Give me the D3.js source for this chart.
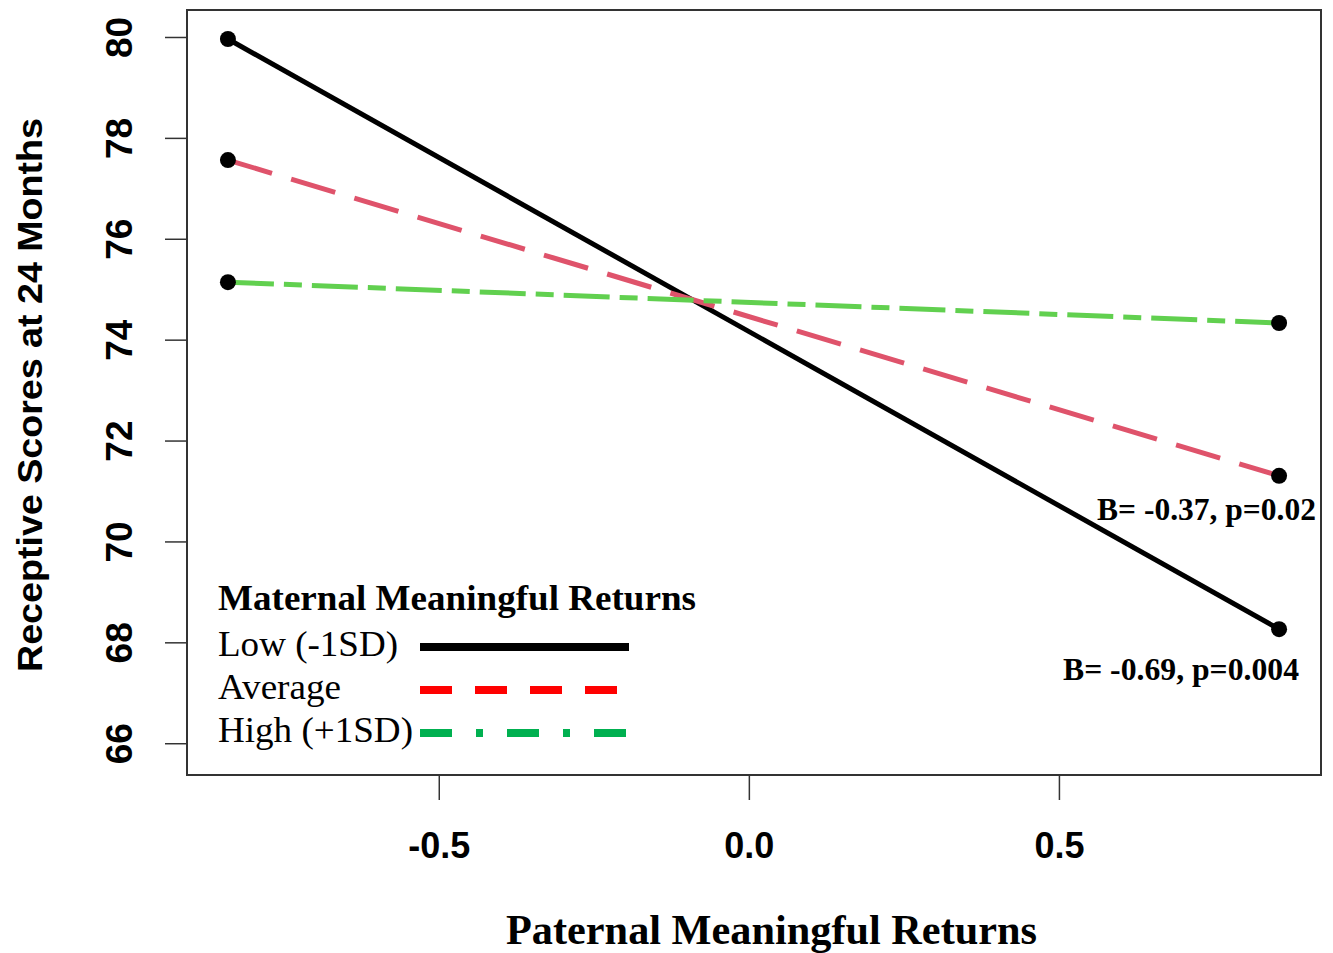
<!DOCTYPE html>
<html lang="en">
<head>
<meta charset="UTF-8">
<title>Receptive Scores</title>
<script src="https://d3js.org/d3.v7.min.js"></script>
<style>
  body { margin: 0; background: #fff; }
  .tick text { font-family: "Liberation Sans", Arial, sans-serif; font-weight: bold; font-size: 37px; fill: #000; }
  .serif { font-family: "Liberation Serif", "Times New Roman", serif; fill: #000; }
</style>
</head>
<body>
<svg width="1333" height="953"></svg>
<script>
// Data
const xValues = [-0.84, 0.855];
const seriesNames = ["Low (-1SD)", "Average", "High (+1SD)"];
const lowValues = [79.96, 68.26];
const avgValues = [77.56, 71.30];
const highValues = [75.14, 74.33];
const yTicks = [66, 68, 70, 72, 74, 76, 78, 80];
const xTicks = [-0.5, 0.0, 0.5];

const svg = d3.select("svg");
const boxLeft = 187, boxRight = 1321, boxTop = 10, boxBottom = 775;

const x = d3.scaleLinear().domain([-0.906, 0.9226]).range([boxLeft, boxRight]);
const y = d3.scaleLinear().domain([65.37, 80.535]).range([boxBottom, boxTop]);

const series = [
  { name: seriesNames[0], vals: lowValues, color: "#000000", dash: null, legColor: "#000000", legDash: null, w: 180 },
  { name: seriesNames[1], vals: avgValues, color: "#DF536B", dash: "46,20", legColor: "#FF0000", legDash: "32,23", w: 123 },
  { name: seriesNames[2], vals: highValues, color: "#61D04F", dash: "46,10,18,10", legColor: "#00B050", legDash: "32,24,7,24", w: 195 }
];

// box
svg.append("rect")
  .attr("x", boxLeft).attr("y", boxTop)
  .attr("width", boxRight - boxLeft).attr("height", boxBottom - boxTop)
  .attr("fill", "none").attr("stroke", "#333").attr("stroke-width", 2);

// axes
const yAxis = svg.append("g")
  .attr("transform", "translate(" + boxLeft + ",0)")
  .call(d3.axisLeft(y).tickValues(yTicks).tickSize(22).tickFormat(d3.format("d")));
yAxis.select(".domain").remove();
yAxis.selectAll(".tick line").attr("stroke", "#333").attr("stroke-width", 1.5);
yAxis.selectAll(".tick text")
  .attr("x", null).attr("dy", null)
  .attr("text-anchor", "middle")
  .attr("transform", "translate(-66,0) rotate(-90)")
  .attr("y", 11);

const xAxis = svg.append("g")
  .attr("transform", "translate(0," + boxBottom + ")")
  .call(d3.axisBottom(x).tickValues(xTicks).tickSize(25).tickFormat(d => d3.format(".1f")(d).replace("−", "-")));
xAxis.select(".domain").remove();
xAxis.selectAll(".tick line").attr("stroke", "#333").attr("stroke-width", 1.5);
xAxis.selectAll(".tick text").attr("y", 83).attr("dy", null).style("font-size", "36px");

// axis labels
svg.append("text")
  .attr("transform", "translate(42,395) rotate(-90)")
  .attr("text-anchor", "middle")
  .attr("textLength", 554).attr("lengthAdjust", "spacingAndGlyphs")
  .style("font-family", "'Liberation Sans', Arial, sans-serif")
  .style("font-weight", "bold")
  .style("font-size", "35px")
  .text("Receptive Scores at 24 Months");

svg.append("text")
  .attr("class", "serif")
  .attr("x", 506).attr("y", 944)
  .attr("textLength", 531).attr("lengthAdjust", "spacingAndGlyphs")
  .style("font-weight", "bold")
  .style("font-size", "42px")
  .text("Paternal Meaningful Returns");

// lines
const line = d3.line().x((d, i) => x(xValues[i])).y(d => y(d));
series.forEach(s => {
  svg.append("path")
    .datum(s.vals)
    .attr("d", line)
    .attr("fill", "none")
    .attr("stroke", s.color)
    .attr("stroke-width", 5)
    .attr("stroke-dasharray", s.dash);
});
series.forEach(s => {
  svg.selectAll(null)
    .data(s.vals)
    .enter().append("circle")
    .attr("cx", (d, i) => x(xValues[i]))
    .attr("cy", d => y(d))
    .attr("r", 8)
    .attr("fill", "#000");
});

// annotations
svg.append("text").attr("class", "serif")
  .attr("x", 1097).attr("y", 520)
  .attr("textLength", 219).attr("lengthAdjust", "spacingAndGlyphs")
  .style("font-weight", "bold").style("font-size", "31px")
  .text("B= -0.37, p=0.02");
svg.append("text").attr("class", "serif")
  .attr("x", 1063).attr("y", 680)
  .attr("textLength", 236).attr("lengthAdjust", "spacingAndGlyphs")
  .style("font-weight", "bold").style("font-size", "31px")
  .text("B= -0.69, p=0.004");

// legend
svg.append("text").attr("class", "serif")
  .attr("x", 218).attr("y", 610)
  .attr("textLength", 478).attr("lengthAdjust", "spacingAndGlyphs")
  .style("font-weight", "bold").style("font-size", "36px")
  .text("Maternal Meaningful Returns");
series.forEach((s, i) => {
  const ly = 647 + i * 43;
  svg.append("text").attr("class", "serif")
    .attr("x", 218).attr("y", ly + 9)
    .attr("textLength", s.w).attr("lengthAdjust", "spacingAndGlyphs")
    .style("font-size", "36px")
    .text(s.name);
  svg.append("line")
    .attr("x1", 420).attr("x2", 629)
    .attr("y1", ly).attr("y2", ly)
    .attr("stroke", s.legColor)
    .attr("stroke-width", 8)
    .attr("stroke-dasharray", s.legDash);
});
</script>
</body>
</html>
